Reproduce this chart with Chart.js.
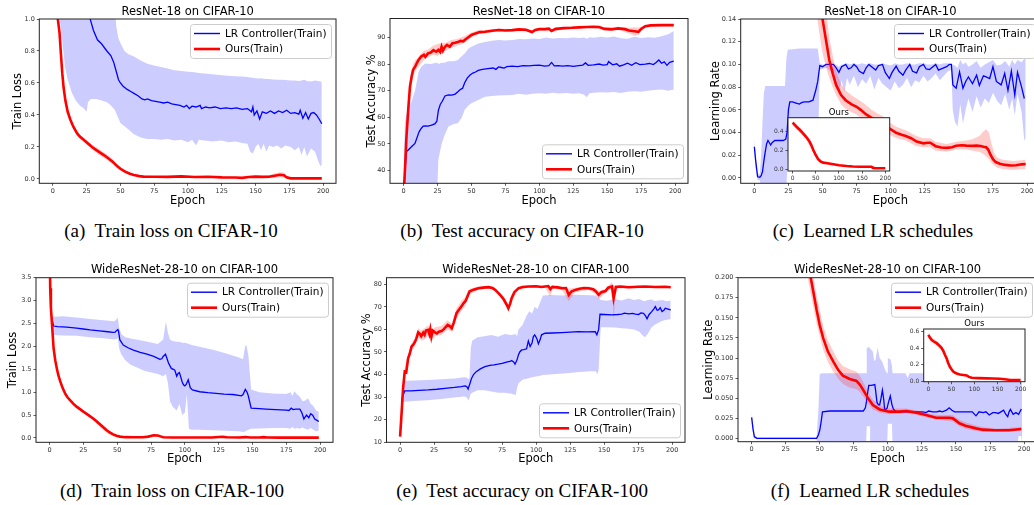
<!DOCTYPE html>
<html>
<head>
<meta charset="utf-8">
<title>Learned LR schedules</title>
<script src="https://cdn.jsdelivr.net/npm/chart.js@4.4.1/dist/chart.umd.min.js"></script>
<style>
  html, body { margin: 0; padding: 0; background: #fff; }
  body { position: relative; width: 1034px; height: 505px; overflow: hidden; }
  canvas { position: absolute; }
  .cap { position: absolute; transform: translateX(-50%); white-space: nowrap;
         font-family: 'Liberation Serif', 'Times New Roman', serif; font-size: 19px; line-height: 22px; color: #000; }
</style>
</head>
<body>
<div class="cap" style="left:171px;top:220px">(a)&nbsp; Train loss on CIFAR-10</div>
<div class="cap" style="left:522px;top:220px">(b)&nbsp; Test accuracy on CIFAR-10</div>
<div class="cap" style="left:873px;top:220px">(c)&nbsp; Learned LR schedules</div>
<div class="cap" style="left:172px;top:480px">(d)&nbsp; Train loss on CIFAR-100</div>
<div class="cap" style="left:522px;top:480px">(e)&nbsp; Test accuracy on CIFAR-100</div>
<div class="cap" style="left:870px;top:480px">(f)&nbsp; Learned LR schedules</div>
<script>
// ---- labels ----
const titles = ['ResNet-18 on CIFAR-10', 'WideResNet-28-10 on CIFAR-100'];
const legendLabels = ['LR Controller(Train)', 'Ours(Train)'];
const epochTicks = ['0', '25', '50', '75', '100', '125', '150', '175', '200'];
const insetEpochTicks = ['0', '50', '100', '150', '200'];
const aYTicks = ['0.0', '0.2', '0.4', '0.6', '0.8', '1.0'];
const bYTicks = ['40', '50', '60', '70', '80', '90'];
const cYTicks = ['0.00', '0.02', '0.04', '0.06', '0.08', '0.10', '0.12', '0.14'];
const dYTicks = ['0.0', '0.5', '1.0', '1.5', '2.0', '2.5', '3.0', '3.5'];
const eYTicks = ['10', '20', '30', '40', '50', '60', '70', '80'];
const fYTicks = ['0.000', '0.025', '0.050', '0.075', '0.100', '0.125', '0.150', '0.175', '0.200'];
const cInsetYTicks = ['0.0', '0.2', '0.4'];
const fInsetYTicks = ['0.0', '0.2', '0.4', '0.6'];

// ---- data: [epoch, value] for curves, [epoch, low, high] for bands ----
// (a) train loss, CIFAR-10
const aCtrl = [[0,2.2],[8,1.7],[16,1.35],[24,1.1],[28,0.99],[30,0.93],[33,0.87],[36,0.845],[40,0.8],[43,0.77],[45,0.73],[47,0.67],[48.6,0.62],[50,0.6],[52,0.58],[55,0.56],[58,0.545],[60,0.535],[63,0.52],[66,0.5],[68,0.495],[70,0.5],[73,0.49],[76,0.485],[79,0.48],[82,0.475],[85,0.48],[88,0.47],[91,0.465],[94,0.46],[97,0.45],[99,0.46],[101,0.44],[103,0.455],[106,0.45],[109,0.46],[110,0.44],[113,0.45],[116,0.445],[120,0.45],[124,0.44],[128,0.445],[132,0.44],[136,0.445],[140,0.435],[144,0.44],[147,0.42],[148,0.45],[149,0.4],[151,0.425],[153,0.375],[155,0.42],[158,0.41],[161,0.425],[164,0.41],[167,0.425],[170,0.415],[173,0.43],[176,0.41],[179,0.415],[182,0.405],[183,0.43],[185,0.38],[187,0.415],[189,0.375],[191,0.41],[193,0.415],[195,0.4],[197,0.375],[199,0.345]];
const aCtrlBand = [[0,1.8,2.6],[5,1.0,2.5],[7,0.86,2.4],[9,0.7,2.3],[11,0.62,2.2],[14,0.54,2.0],[17,0.49,1.9],[20,0.46,1.8],[23,0.44,1.7],[25,0.42,1.6],[26,0.48,1.55],[28,0.5,1.5],[32,0.5,1.4],[36,0.49,1.3],[40,0.48,1.2],[43,0.46,1.12],[46,0.43,1.05],[47,0.41,0.95],[48.5,0.38,0.88],[50,0.35,0.85],[53,0.33,0.8],[56,0.31,0.78],[60,0.28,0.765],[65,0.26,0.74],[70,0.25,0.72],[75,0.25,0.71],[80,0.245,0.7],[85,0.25,0.69],[90,0.24,0.68],[95,0.245,0.675],[100,0.23,0.67],[103,0.245,0.668],[106,0.21,0.665],[108,0.245,0.663],[112,0.24,0.66],[118,0.235,0.655],[125,0.24,0.648],[130,0.23,0.645],[135,0.235,0.642],[140,0.225,0.64],[144,0.22,0.637],[146,0.17,0.635],[148,0.16,0.633],[150,0.2,0.63],[152,0.22,0.628],[154,0.18,0.63],[156,0.22,0.626],[158,0.17,0.625],[160,0.21,0.625],[163,0.2,0.622],[166,0.21,0.62],[169,0.19,0.62],[172,0.21,0.618],[176,0.2,0.616],[179,0.18,0.615],[182,0.2,0.613],[184,0.15,0.615],[186,0.2,0.62],[188,0.14,0.612],[191,0.19,0.61],[194,0.17,0.615],[196,0.12,0.612],[198,0.08,0.61],[199,0.09,0.61]];
const aOurs = [[0,2.3],[2,1.4],[3.7,1.0],[5,0.91],[6,0.78],[7,0.66],[8,0.57],[9.3,0.49],[11,0.42],[13,0.37],[15,0.33],[18,0.285],[20,0.265],[23,0.244],[26,0.222],[29,0.2],[32,0.182],[35,0.165],[38,0.148],[41,0.13],[44,0.11],[47,0.085],[50,0.064],[53.5,0.046],[57,0.033],[60,0.025],[64,0.018],[67,0.015],[75,0.014],[85,0.013],[95,0.016],[105,0.012],[115,0.014],[125,0.01],[135,0.009],[140,0.007],[145,0.012],[150,0.015],[155,0.013],[160,0.014],[164,0.02],[168,0.026],[171,0.024],[173,0.01],[176,0.004],[185,0.004],[199,0.004]];
const aOursBand = [[0,2.25,2.35],[2,1.35,1.45],[3.7,0.95,1.05],[5,0.89,0.93],[6,0.76,0.8],[7,0.64,0.68],[8,0.55,0.59],[9.3,0.47,0.51],[11,0.41,0.43],[13,0.36,0.38],[15,0.32,0.34],[18,0.275,0.295],[20,0.255,0.275],[23,0.232,0.256],[26,0.208,0.236],[29,0.184,0.216],[32,0.164,0.2],[35,0.147,0.183],[38,0.13,0.166],[41,0.112,0.148],[44,0.093,0.127],[47,0.07,0.1],[50,0.052,0.076],[53.5,0.036,0.056],[57,0.025,0.041],[60,0.019,0.031],[64,0.012,0.024],[67,0.009,0.021],[75,0.009,0.019],[85,0.008,0.018],[95,0.011,0.021],[105,0.007,0.017],[115,0.009,0.019],[125,0.005,0.015],[135,0.005,0.013],[140,0.003,0.011],[145,0.006,0.018],[150,0.008,0.022],[155,0.006,0.02],[160,0.004,0.024],[164,0.006,0.034],[168,0.01,0.042],[171,0.008,0.04],[173,0.002,0.018],[176,0,0.008],[185,0,0.008],[199,0,0.008]];

// (b) test accuracy, CIFAR-10
const bCtrl = [[0,30],[1,40],[2.2,47.1],[4,48],[6,49],[8.4,50.2],[10,52.5],[11.5,54.6],[13,55.8],[14.5,56.7],[16,56.8],[18,56.7],[20,57],[23,57.5],[24.5,58.5],[25.6,62.5],[27,64.8],[28.5,66],[30.5,68],[33,68.4],[35.5,68.3],[38,68.7],[40,69.6],[42,70.5],[43.5,70.9],[45,73],[47,74.8],[49,75.9],[51,76.6],[53,77],[55,77.6],[58,78],[62,78.3],[66,78.5],[68,78],[70,78.9],[72,78.7],[74,78.5],[76,79],[80,79.2],[84,79],[88,79.4],[92,79.3],[96,79.5],[100,79.6],[104,79.2],[107,79.4],[109,80.6],[111,79.3],[114,79.4],[117,79.2],[121,79.4],[125,79.1],[129,79.4],[132,79.6],[134,80.4],[136,79.5],[140,79.7],[144,80],[147,79.6],[150,79.8],[151,80.9],[154,79.7],[157,80.1],[159,79.2],[162,79.7],[165,80.3],[168,79.5],[171,80.5],[174,79.8],[178,80],[181,80.2],[184,79.8],[186,80.6],[188,81.5],[190,80.3],[192,80.8],[194,79.5],[196,80.6],[199,81.1]];
const bCtrlBand = [[0,20,40],[1,20,58],[2,20,61],[4,20,64],[6,20,66],[8.4,20,70],[10,20,74],[11,20,77],[13,20,79],[16,20,80.2],[20,20,80],[24,20,80.5],[25,35,80.5],[25.6,44,80],[28,50,80.5],[30,53,80.5],[33,56.5,81],[37,57.5,81],[40,57.8,81.5],[43,60,83],[45,62.8,84],[48,64.5,85.9],[50,65.3,86.5],[55,66.5,87.7],[60,67.7,88.3],[65,68,88.7],[70,68.2,89],[75,68.3,88.8],[80,68.4,89],[85,68.8,89.4],[90,68.5,89.3],[95,68.8,89.6],[100,69,89.4],[105,68.8,90],[110,69.2,89.6],[115,68.9,89.8],[120,69.1,89.7],[125,68.8,90],[129,69,89.8],[133,68.5,90],[135,67.5,89.5],[137,69,90.1],[140,69.2,89.9],[145,69.4,90.2],[150,69.3,90],[155,69.5,90.3],[160,69.1,89.7],[165,69.6,89.5],[170,69.8,90.2],[175,69.6,89.8],[180,70,90.1],[185,70.2,89.9],[190,70.4,90.4],[195,70,91.2],[198,70.3,92.1],[199,70.2,92.3]];
const bOurs = [[0,30],[1,40],[2,51.5],[3.4,62.7],[4.7,71.5],[6,75.5],[7,77.8],[8.5,79],[9.6,80.2],[11,81.5],[13,82.8],[15,83.5],[16,82.7],[18,84],[20,84.3],[22,85.2],[24,84.6],[25.6,85.3],[27,84.5],[28,86.5],[29,85],[30.5,86.5],[32,87.2],[34,86.5],[36,87.8],[38,88],[40,88.3],[42,88.7],[44,88.5],[45,89],[47,89.8],[50,90.9],[53,91.5],[56,92],[60,92.1],[65,92.5],[70,92.8],[75,92.6],[80,92.75],[85,93],[90,92.9],[94.6,92],[97,92.8],[100,93.1],[104,93.1],[107,93.3],[109,92.4],[112,93.2],[118,93.5],[124,93.6],[129,93.75],[135,93.9],[140,94],[144,93.9],[148,93.2],[153,93],[158,93.4],[163,93.1],[166,92.6],[170,92.3],[173,92.1],[175,93.2],[178,94.2],[182,94.5],[190,94.6],[199,94.6]];
const bOursBand = [[0,28,32],[1,37,44],[2,48,55],[3.4,59,66],[4.7,68,74],[6,72.5,78],[7,75.5,80],[8.5,77,81.5],[10,78.5,82],[12,79.5,83.5],[15,81.5,85],[18,82.5,85.5],[22,83.5,87],[25,83,87.5],[28,84.5,88],[31,85,88],[35,86,89],[40,87,89.5],[45,88,90.5],[50,90,91.8],[55,91.3,92.7],[60,91.5,92.7],[70,92.3,93.3],[80,92.2,93.2],[90,92.4,93.4],[94.6,91.5,92.7],[100,92.7,93.6],[109,92,93],[118,93,94],[129,93.3,94.2],[140,93.6,94.4],[148,92.7,93.8],[158,92.9,94],[166,91.5,93.6],[170,90.5,93.8],[173,91,93.6],[176,93,94.2],[182,94.2,94.8],[199,94.2,95]];

// (c) learned LR, CIFAR-10
const cCtrl = [[0,0.0275],[1,0.015],[2.4,0.001],[4,0.0006],[5,0.002],[6,0.0056],[7,0.015],[8,0.023],[9,0.03],[10,0.033],[11,0.031],[12,0.029],[13,0.031],[15,0.033],[18,0.033],[21,0.033],[23,0.034],[24,0.04],[25,0.06],[26,0.067],[28,0.067],[30.6,0.066],[33,0.065],[35,0.0665],[37,0.067],[40,0.067],[43,0.0685],[45,0.077],[46.5,0.085],[48,0.099],[50,0.098],[52.6,0.1],[55,0.1],[58,0.1],[60,0.097],[62,0.093],[64,0.098],[67,0.1],[69,0.096],[71,0.097],[73,0.1],[75,0.098],[77,0.094],[80,0.092],[82,0.097],[84,0.1],[86,0.098],[89,0.095],[91,0.099],[94,0.1],[96,0.093],[99,0.0876],[101,0.093],[104,0.0985],[106,0.094],[109,0.0905],[111,0.095],[114,0.1],[116,0.094],[119,0.0925],[121,0.098],[124,0.1],[126,0.096],[128.5,0.0955],[131,0.098],[133,0.1],[135,0.095],[138,0.0965],[141,0.098],[143,0.1],[144.5,0.1],[145.6,0.082],[148,0.079],[150.5,0.0934],[153,0.079],[155,0.085],[157,0.089],[160,0.083],[163,0.0905],[165,0.0815],[168,0.09],[170,0.089],[172.6,0.0876],[175,0.098],[177.5,0.085],[181,0.082],[183.6,0.092],[186,0.077],[188.5,0.094],[191,0.073],[193,0.093],[196,0.08],[198,0.07]];
const cCtrlBand = [[0,0.02,0.035],[1,0.008,0.02],[2.4,-0.002,0.004],[4,-0.002,0.003],[5,-0.01,0.02],[6,-0.01,0.05],[7,-0.01,0.075],[8,-0.01,0.081],[22.5,-0.01,0.081],[23.5,-0.01,0.105],[24.5,0.02,0.113],[33,0.02,0.114],[46.5,0.02,0.114],[47.5,0.07,0.105],[48,0.095,0.101],[50,0.096,0.1],[53,0.097,0.1],[56,0.094,0.101],[58,0.088,0.1],[60,0.08,0.1],[62,0.075,0.098],[64,0.086,0.1],[66,0.076,0.1],[68,0.088,0.101],[70,0.082,0.1],[73,0.09,0.101],[76,0.08,0.1],[79,0.087,0.101],[82,0.083,0.1],[85,0.09,0.101],[88,0.078,0.1],[91,0.088,0.1],[94,0.083,0.101],[97,0.08,0.1],[100,0.077,0.099],[103,0.085,0.101],[106,0.079,0.1],[109,0.082,0.1],[112,0.088,0.101],[115,0.08,0.1],[118,0.086,0.1],[121,0.084,0.101],[124,0.09,0.101],[127,0.085,0.1],[130,0.088,0.1],[133,0.092,0.101],[136,0.086,0.1],[139,0.09,0.101],[142,0.094,0.101],[144.5,0.095,0.1],[145.5,0.06,0.1],[147,0.05,0.099],[149,0.045,0.097],[151,0.065,0.104],[153,0.048,0.1],[155,0.06,0.102],[157,0.07,0.098],[160,0.058,0.1],[163,0.072,0.103],[166,0.062,0.097],[169,0.07,0.1],[172,0.066,0.102],[175,0.075,0.104],[178,0.068,0.099],[181,0.064,0.1],[184,0.074,0.103],[187,0.06,0.098],[189,0.07,0.104],[191,0.055,0.1],[193,0.074,0.104],[196,0.058,0.102],[198,0.033,0.105],[199,0.035,0.105]];
const cOurs = [[40,0.25],[45,0.19],[48,0.16],[50,0.14],[52.6,0.121],[55,0.1037],[57.5,0.092],[60,0.0817],[63.6,0.073],[67,0.0685],[71,0.065],[75,0.0627],[78,0.06],[82,0.056],[86,0.053],[90,0.05],[95,0.047],[99,0.0436],[104,0.0398],[108,0.038],[111,0.037],[115,0.035],[119,0.032],[124,0.0305],[127,0.031],[129,0.031],[133,0.028],[137,0.0268],[141,0.0265],[145,0.027],[148,0.0284],[152,0.0288],[155.5,0.0285],[160,0.0283],[163,0.0285],[166,0.0282],[168,0.0275],[170,0.027],[171.5,0.025],[173,0.021],[175,0.0165],[177,0.014],[180,0.0125],[184,0.0115],[188,0.011],[192,0.0112],[196,0.012],[199,0.0123]];
const cOursBand = [[40,0.2,0.31],[45,0.15,0.24],[48,0.125,0.2],[50,0.11,0.175],[52.6,0.097,0.148],[55,0.088,0.124],[57.5,0.08,0.108],[60,0.073,0.094],[63.6,0.065,0.083],[67,0.061,0.077],[71,0.058,0.073],[75,0.056,0.07],[80,0.051,0.066],[86,0.046,0.06],[90,0.043,0.057],[95,0.041,0.054],[99,0.038,0.049],[104,0.035,0.045],[111,0.033,0.042],[119,0.028,0.037],[124,0.027,0.035],[129,0.027,0.035],[133,0.024,0.032],[141,0.023,0.03],[148,0.025,0.032],[155,0.025,0.033],[160,0.024,0.034],[165,0.023,0.037],[168,0.021,0.041],[170,0.019,0.043],[172,0.017,0.04],[174,0.013,0.03],[176,0.011,0.022],[178,0.009,0.018],[182,0.008,0.016],[190,0.007,0.015],[199,0.008,0.016]];
const cInset = [[0,0.496],[5,0.47],[10,0.445],[15.8,0.418],[22,0.385],[30,0.34],[36,0.3],[40,0.26],[44.6,0.206],[50,0.15],[55.4,0.106],[60,0.085],[66,0.071],[75,0.064],[88,0.053],[100,0.043],[116.5,0.035],[130,0.03],[145,0.028],[160,0.028],[170,0.027],[174,0.015],[178,0.011],[200,0.011]];
const cInsetBand = [[0,0.47,0.52],[15.8,0.395,0.445],[30,0.31,0.365],[44.6,0.18,0.235],[55.4,0.09,0.125],[66,0.062,0.08],[88,0.046,0.06],[116.5,0.03,0.04],[145,0.024,0.032],[170,0.02,0.036],[178,0.007,0.016],[200,0.007,0.015]];

// (d) train loss, CIFAR-100
const dCtrl = [[1.5,2.62],[3,2.445],[6,2.43],[12.8,2.42],[20,2.4],[25,2.38],[30,2.36],[37,2.34],[43,2.32],[47,2.305],[48.5,2.31],[49.6,2.35],[50.5,2.37],[51,2.33],[52,2.14],[54.5,2.03],[58,1.97],[62,1.92],[67,1.87],[72,1.83],[77,1.78],[81.6,1.72],[83,1.73],[84,1.78],[85.7,1.83],[87,1.72],[88,1.63],[90,1.52],[91.5,1.5],[92.6,1.48],[94,1.35],[95,1.41],[96,1.43],[97,1.33],[98,1.23],[99,1.16],[100,1.14],[101,1.17],[102.5,1.27],[104,1.1],[105.6,1.05],[111,1.01],[117,0.99],[123,0.975],[129,0.96],[135.6,0.95],[141.8,0.92],[143,0.95],[144.7,1.06],[146,1.0],[146.7,0.94],[148,0.78],[149,0.65],[155,0.64],[160,0.63],[167,0.62],[175,0.61],[177,0.6],[178.6,0.65],[180,0.62],[182,0.63],[185,0.63],[186.5,0.55],[188,0.415],[189,0.46],[190,0.5],[191.6,0.44],[193,0.53],[194.5,0.5],[196,0.415],[198,0.38],[199,0.36]];
const dCtrlBand = [[1.5,2.5,2.7],[3,2.25,2.65],[10,2.24,2.66],[20,2.23,2.63],[30,2.2,2.6],[40,2.18,2.57],[48,2.15,2.55],[49.6,2.16,2.6],[50.5,2.17,2.62],[51.5,1.95,2.4],[53,1.83,2.27],[56,1.7,2.2],[60,1.6,2.17],[70,1.47,2.12],[80,1.4,2.05],[84,1.35,2.15],[86,1.4,2.55],[87.5,1.2,2.3],[89,0.8,2.15],[91,0.68,2.12],[94,0.6,2.1],[96,0.75,2.1],[98,0.5,2.08],[100,0.55,2.08],[101.5,0.95,2.07],[103,0.2,2.05],[105,0.18,2.03],[110,0.18,2.0],[120,0.17,1.93],[130,0.16,1.85],[140,0.15,1.76],[143,0.13,1.72],[144.5,0.14,2.0],[145.5,0.16,2.03],[147,0.18,1.8],[149,0.2,1.06],[155,0.21,1.0],[165,0.22,0.97],[175,0.22,0.96],[178,0.2,1.0],[179.5,0.24,0.92],[181,0.2,1.02],[183,0.22,0.95],[185,0.2,0.9],[187,0.23,0.8],[189,0.2,0.82],[191,0.18,0.87],[193,0.22,0.75],[195,0.18,0.7],[197,0.15,0.6],[199,0.16,0.57]];
const dOurs = [[0,4.5],[0.5,3.27],[1,2.85],[1.7,2.54],[3,1.96],[4.2,1.7],[5.4,1.52],[6.5,1.37],[8,1.23],[9.7,1.09],[11.5,0.975],[13,0.9],[15,0.83],[17.5,0.75],[20,0.684],[22.5,0.63],[25,0.575],[28.5,0.505],[32,0.43],[34.5,0.37],[37,0.306],[39.5,0.24],[42,0.175],[44.5,0.12],[47,0.08],[49.5,0.05],[52,0.03],[56,0.018],[62,0.015],[69,0.015],[73,0.03],[77,0.058],[80,0.055],[82,0.035],[84,0.015],[90,0.01],[100,0.01],[110,0.012],[120,0.012],[125,0.022],[128,0.025],[131,0.015],[140,0.012],[145,0.02],[148,0.012],[155,0.01],[158,0.018],[161,0.01],[170,0.008],[180,0.008],[190,0.008],[199,0.008]];
const dOursBand = [[0,4.3,4.7],[1,2.75,2.95],[3,1.9,2.02],[5.4,1.48,1.56],[8,1.2,1.26],[11.5,0.95,1.0],[15,0.81,0.85],[20,0.66,0.7],[25,0.55,0.6],[28.5,0.47,0.53],[32,0.39,0.46],[34.5,0.32,0.41],[37,0.25,0.35],[39.5,0.18,0.29],[42,0.12,0.22],[44.5,0.07,0.16],[47,0.04,0.11],[49.5,0.02,0.07],[52,0.01,0.045],[56,0.005,0.03],[62,0.005,0.025],[69,0.005,0.025],[77,0.04,0.075],[82,0.02,0.05],[84,0.005,0.025],[100,0,0.02],[125,0.01,0.035],[131,0.005,0.025],[199,0,0.016]];

// (e) test accuracy, CIFAR-100
const eCtrl = [[1,28],[2,30.5],[3.4,32.75],[8,32.8],[14,33],[20.6,33.2],[27,33.5],[33,33.9],[40,34.3],[45,34.7],[47.7,35],[49,34.7],[50,33.6],[51,35.4],[52.6,38.4],[54,40],[56,41.3],[59,42.5],[62.4,43.5],[66,44.1],[69,44.3],[72,44.6],[75,45],[77,45.3],[79.6,45.7],[81,45.8],[82,46.2],[83.5,45.6],[84.5,44.6],[86,46.5],[87,48.7],[88,50],[89.4,50.9],[91,51],[93,51.4],[94.3,54.9],[95.6,52.4],[97,54],[98,56.8],[99,57.6],[100.5,56],[101.7,53.6],[103,55.5],[104,57.6],[106.6,58.3],[112,58.4],[119,58.6],[125,58.8],[131,59],[137,58.9],[143.5,59],[144.7,57.6],[146,60],[147,66.7],[150,66.6],[155.8,66.4],[160,66.6],[163,66.8],[165,67.2],[168,66.9],[171,67.1],[173,66.8],[175.4,66.6],[177,67.3],[179,67.1],[180.5,66],[181.6,64.7],[183,66.5],[185,67.9],[186.5,69],[187.7,70.1],[189,68.5],[190,68.6],[191.3,69.6],[192.6,67.9],[194,68.5],[195,69.4],[197,69],[199,68.6]];
const eCtrlBand = [[1,26,30],[2.5,28,37],[3.5,28,37.3],[10,28.3,37.4],[20,28.6,37.6],[30,29.2,37.9],[40,29.8,38.3],[47,30.3,38.8],[49,30,38.7],[50,28.5,38],[51,29.5,38.5],[52,31.5,52],[53,32,55],[57,33,56.5],[62,33,57],[67,32.5,57.5],[72,32,56.8],[77,32,58],[82,31.5,57.5],[85,31,58],[86,34,57],[87,36,60],[90,37.7,62],[93,38.2,66],[95,38.5,68],[97,38.8,67],[99,39,70],[101,39.3,69],[103,39.5,72],[105,39.8,75],[110,40,75.2],[120,40.5,75],[130,41,75.3],[140,41.5,75.1],[144,41.5,75],[145,40,74.5],[146,42,74],[147.5,61,73],[152,61,72.7],[158,60.8,73.5],[163,60.5,72.8],[168,60.3,73.8],[172,60,73],[176,59,73.5],[178,57.5,72.8],[180,56.5,72.5],[182,58,73],[185,61,73.2],[187,62,72.6],[190,63,72.8],[193,63.8,73],[196,64.3,72.5],[199,64.5,72.8]];
const eOurs = [[0,12.5],[1,22],[2.2,34],[3.4,41.3],[4.5,41],[5.9,47.2],[7,49],[8.4,52.4],[10,53.5],[10.8,54.3],[12,56],[13.3,58.7],[14.5,58],[15.5,57],[17,58.5],[18,57.6],[19,59.5],[20.6,59.8],[21.5,58],[22.2,60],[23,56.8],[24,59.5],[25.6,58.7],[27,58.2],[28.5,59],[30.5,59.3],[32,60],[33.5,61],[35,62],[36.5,61.5],[38,60.5],[39.5,63],[41.5,67.2],[43,68.5],[45,70.1],[46.5,71.5],[48,72.5],[49,73.8],[51,76.8],[54,77.6],[57.5,78.2],[61,78.5],[65,78.7],[68,78.3],[70,77.5],[72.5,76],[74.7,74.5],[76.5,73],[78.4,70.9],[79.6,69.4],[81,71.5],[82,73.8],[84,76.5],[87,78.2],[90,78.8],[94.3,79],[100,79.1],[104,78.8],[106.6,79],[109,79.2],[110.5,77.8],[112,78.8],[116,78.6],[119,78.2],[122,78.3],[124,75.3],[126,76.8],[128.7,77.5],[132,78],[135,78.3],[138.6,78.2],[142,77.8],[144,76.8],[146,75.3],[148,76.5],[151,77],[153,78.5],[155.8,79],[157,73.8],[158.7,78.8],[162,79],[168,78.7],[175,78.9],[180,79],[188,78.8],[195,78.9],[199,78.7]];
const eOursBand = [[0,11.5,14],[1,20,24],[2.2,32,36],[3.4,39,43],[5.9,45,49],[8.4,50.5,54],[10.8,52.5,56],[13.3,56.5,60.5],[15.5,55,59.5],[18,55.5,60.5],[20.6,57.5,61.8],[23,55,59],[25.6,57,61],[30.5,57.5,61.5],[35,60,64],[38,58.8,62.5],[41.5,65,69.5],[45,68,72.5],[48,70.5,74.5],[51,75.5,78],[57.5,77.5,79],[65,78.2,79.3],[70,76.8,78.3],[74.7,73.5,75.5],[78.4,69.5,72.2],[79.6,68,71],[82,72.5,75],[87,77.5,79],[94.3,78.5,79.5],[106.6,78.5,79.5],[110.5,74.5,79],[112,78,79.5],[119,77.5,79],[124,72.5,78],[128.7,76.5,78.5],[138.6,77.5,79],[144,75.5,78],[146,73.5,77],[151,76,78],[155.8,78.2,81],[157,64,79.5],[158.7,78,79.5],[168,78.2,79.2],[199,78.3,79.2]];

// (f) learned LR, CIFAR-100
const fCtrl = [[0,0.026],[1,0.012],[2,0.002],[4,0],[20,0],[40,0],[47.7,0],[49,0.004],[50,0.01],[51,0.02],[52,0.033],[57.5,0.034],[65,0.034],[75,0.034],[82,0.034],[83.5,0.038],[84.3,0.0456],[85,0.055],[86,0.066],[88,0.066],[90.4,0.067],[91,0.06],[92,0.045],[93,0.042],[94,0.0415],[95,0.05],[96,0.06],[97,0.048],[97.7,0.035],[99.4,0.0373],[100.5,0.045],[101.8,0.0527],[103,0.042],[104,0.0365],[106,0.033],[115,0.033],[125.7,0.033],[128,0.032],[130,0.034],[133,0.033],[136,0.033],[138,0.034],[140,0.033],[143,0.035],[145,0.038],[147,0.035],[149,0.033],[155,0.033],[162,0.033],[164.7,0.028],[167,0.033],[170,0.032],[172,0.033],[174.4,0.029],[177,0.032],[179,0.032],[181,0.031],[183,0.033],[185,0.035],[186.5,0.03],[188,0.027],[189,0.033],[190,0.036],[192,0.03],[194,0.032],[196,0.03],[198,0.0365]];
const fCtrlBand = [[0,0.018,0.034],[1,0.006,0.018],[2,0,0.004],[4,-0.001,0.001],[47.7,-0.001,0.001],[49,-0.01,0.035],[50,-0.01,0.08],[52,-0.01,0.081],[84,-0.01,0.081],[84.5,0.015,0.112],[86,0.015,0.114],[87,0.015,0.112],[87.5,-0.01,0.112],[89,-0.01,0.108],[90,-0.01,0.096],[91,-0.01,0.098],[92.5,-0.01,0.113],[94,-0.01,0.1],[96,-0.01,0.095],[98,-0.01,0.085],[99.5,-0.01,0.081],[100,0.018,0.1],[102,0.018,0.098],[103,0.018,0.09],[103.5,-0.01,0.081],[113,-0.01,0.081],[114.5,-0.01,0.075],[116,-0.01,0.081],[195,-0.01,0.081],[196,0.003,0.081],[198,0.003,0.081],[198.5,-0.01,0.081]];
const fOurs = [[38,0.25],[43.4,0.2],[45.3,0.1826],[47.7,0.16],[50,0.141],[52.6,0.1245],[56,0.108],[60,0.0954],[63.6,0.085],[67,0.078],[72,0.0739],[77,0.0714],[79.4,0.067],[82,0.06],[85.5,0.0498],[89,0.0415],[94,0.036],[101,0.0332],[108.6,0.0332],[113.5,0.034],[121,0.032],[128,0.029],[135.4,0.0257],[145,0.0257],[147.6,0.0249],[150,0.022],[152.5,0.0187],[157,0.0158],[164.7,0.0124],[169.5,0.0108],[179,0.01],[189,0.01],[198,0.0116]];
const fOursBand = [[38,0.23,0.28],[43.4,0.18,0.22],[47.7,0.143,0.178],[52.6,0.11,0.14],[56,0.095,0.122],[60,0.083,0.108],[63.6,0.074,0.097],[67,0.068,0.09],[72,0.063,0.086],[77,0.061,0.083],[79.4,0.058,0.078],[82,0.052,0.07],[85.5,0.043,0.058],[89,0.036,0.048],[94,0.032,0.041],[101,0.03,0.037],[113.5,0.031,0.037],[121,0.029,0.035],[128,0.026,0.032],[135.4,0.023,0.029],[147.6,0.021,0.029],[152.5,0.015,0.023],[157,0.012,0.02],[164.7,0.009,0.016],[169.5,0.008,0.014],[179,0.008,0.012],[198,0.009,0.014]];
const fInset = [[0,0.56],[3,0.53],[7,0.5],[12,0.48],[18,0.46],[24,0.43],[29,0.4],[33,0.36],[36,0.32],[40,0.27],[43,0.22],[47,0.17],[50.5,0.14],[54,0.115],[58,0.1],[63,0.088],[68.6,0.08],[76,0.074],[83,0.068],[88,0.05],[94,0.04],[110,0.036],[126,0.032],[140,0.03],[155,0.028],[166,0.022],[177,0.012],[200,0.012]];
const fInsetBand = [[0,0.53,0.59],[7,0.47,0.53],[18,0.43,0.49],[29,0.37,0.43],[36,0.29,0.35],[43,0.19,0.25],[50.5,0.12,0.16],[58,0.085,0.115],[68.6,0.068,0.092],[83,0.058,0.078],[94,0.033,0.047],[126,0.026,0.038],[155,0.022,0.034],[177,0.007,0.017],[200,0.007,0.017]];

// ---- styling ----
const BLUE = '#0000ff';
const RED = '#ff0000';
const BLUE_BAND = 'rgba(0, 0, 255, 0.2)';
const RED_BAND = 'rgba(255, 0, 0, 0.2)';
const FONT = "'DejaVu Sans', sans-serif";

Chart.defaults.font.family = FONT;
Chart.defaults.color = '#333';

function lineSet(rows, color, width, order) {
    return {
        data: rows.map(r => ({ x: r[0], y: r[1] })),
        borderColor: color, borderWidth: width,
        pointRadius: 0, fill: false, order, clip: 0
    };
}

function bandSets(rows, color, order) {
    return [
        {
            data: rows.map(r => ({ x: r[0], y: r[2] })),
            borderColor: 'rgba(0,0,0,0)', borderWidth: 0, backgroundColor: color,
            pointRadius: 0, fill: '+1', order, clip: 0
        },
        {
            data: rows.map(r => ({ x: r[0], y: r[1] })),
            borderColor: 'rgba(0,0,0,0)', borderWidth: 0,
            pointRadius: 0, fill: false, order, clip: 0
        }
    ];
}

function curves(ctrl, ctrlBand, ours, oursBand) {
    const sets = [];
    if (ctrl) sets.push(...bandSets(ctrlBand, BLUE_BAND, 4), lineSet(ctrl, BLUE, 1.3, 3));
    sets.push(...bandSets(oursBand, RED_BAND, 2), lineSet(ours, RED, 2.6, 1));
    return sets;
}

// frame, title, legend and inset background
const decor = {
    id: 'decor',
    beforeDatasetsDraw(chart, args, o) {
        if (!o.whiteBg) return;
        const a = chart.chartArea, ctx = chart.ctx;
        ctx.save();
        ctx.fillStyle = '#fff';
        ctx.fillRect(a.left, a.top, a.width, a.height);
        ctx.restore();
    },
    afterDatasetsDraw(chart, args, o) {
        const a = chart.chartArea, ctx = chart.ctx;
        ctx.save();
        ctx.strokeStyle = '#222';
        ctx.lineWidth = 1;
        ctx.strokeRect(a.left, a.top, a.width, a.height);

        ctx.fillStyle = '#000';
        ctx.textAlign = 'center';
        ctx.textBaseline = 'middle';
        ctx.font = o.titleSize + 'px ' + FONT;
        ctx.fillText(o.title, (a.left + a.right) / 2, o.titleY);

        if (o.legend) {
            const w = 141, h = 34;
            const x = a.right - 5 - w;
            const y = o.legend === 'ur' ? a.top + 5 : a.bottom - 5 - h;
            ctx.beginPath();
            ctx.roundRect(x + 0.5, y + 0.5, w, h, 3);
            ctx.fillStyle = 'rgba(255,255,255,0.8)';
            ctx.fill();
            ctx.strokeStyle = '#cccccc';
            ctx.stroke();
            const styles = [[BLUE, 1.4], [RED, 2.6]];
            ctx.font = '10.5px ' + FONT;
            ctx.textAlign = 'left';
            legendLabels.forEach((label, i) => {
                const ly = y + 9.5 + i * 15.5;
                ctx.beginPath();
                ctx.moveTo(x + 4, ly);
                ctx.lineTo(x + 30, ly);
                ctx.strokeStyle = styles[i][0];
                ctx.lineWidth = styles[i][1];
                ctx.stroke();
                ctx.fillStyle = '#000';
                ctx.fillText(label, x + 35, ly + 0.5);
            });
        }
        ctx.restore();
    }
};

function panel(p) {
    const [cl, ct, cw, ch] = p.canvas;
    const [L, T, R, B] = p.area;
    const cv = document.createElement('canvas');
    cv.width = cw; cv.height = ch;
    cv.style.left = cl + 'px'; cv.style.top = ct + 'px';
    cv.style.width = cw + 'px'; cv.style.height = ch + 'px';
    document.body.appendChild(cv);

    const xVals = p.xTicks.map(Number);
    const yVals = p.yTicks.map(Number);
    const tickSize = p.inset ? 6 : 6.5;
    const labelSize = 11.5;

    return new Chart(cv, {
        type: 'line',
        data: { datasets: p.datasets },
        options: {
            responsive: false,
            animation: false,
            events: [],
            devicePixelRatio: 1,
            layout: { padding: { left: 0, top: T - ct, right: cl + cw - R, bottom: 0 } },
            plugins: {
                legend: { display: false },
                tooltip: { enabled: false },
                decor: {
                    title: p.title, titleY: p.titleY - ct,
                    titleSize: p.inset ? 8.5 : 11.5,
                    legend: p.legend, whiteBg: !!p.inset
                }
            },
            scales: {
                x: {
                    type: 'linear', min: p.x[0], max: p.x[1],
                    afterBuildTicks: s => { s.ticks = xVals.map(v => ({ value: v })); },
                    afterFit: s => { s.height = ct + ch - B; },
                    ticks: {
                        autoSkip: false, maxRotation: 0, padding: 1.5,
                        font: { size: tickSize }, color: '#333',
                        callback: (v, i) => p.xTicks[i]
                    },
                    grid: { drawOnChartArea: false, drawTicks: true, tickLength: 2.5, color: '#333', lineWidth: 0.8 },
                    border: { display: false },
                    title: p.xlabel ? {
                        display: true, text: p.xlabel, color: '#000',
                        font: { size: labelSize },
                        padding: { top: 0, bottom: ch - (p.xlabelY - ct) - labelSize * 0.6 }
                    } : { display: false }
                },
                y: {
                    type: 'linear', min: p.y[0], max: p.y[1],
                    afterBuildTicks: s => { s.ticks = yVals.map(v => ({ value: v })); },
                    afterFit: s => { s.width = L - cl; },
                    ticks: {
                        autoSkip: false, padding: 2,
                        font: { size: tickSize }, color: '#333',
                        callback: (v, i) => p.yTicks[i]
                    },
                    grid: { drawOnChartArea: false, drawTicks: true, tickLength: 2.5, color: '#333', lineWidth: 0.8 },
                    border: { display: false },
                    title: p.ylabel ? {
                        display: true, text: p.ylabel, color: '#000',
                        font: { size: labelSize },
                        padding: { top: p.ylabelX - cl - labelSize * 0.6, bottom: 0 }
                    } : { display: false }
                }
            }
        },
        plugins: [decor]
    });
}

const X_RANGE = [-10, 209.5];

panel({ canvas: [0, 0, 345, 215], area: [39.3, 19, 336, 183.3], x: X_RANGE, y: [-0.027, 1.0],
        xTicks: epochTicks, yTicks: aYTicks, title: titles[0], titleY: 11.7,
        ylabel: 'Train Loss', ylabelX: 18.3, xlabel: 'Epoch', xlabelY: 201, legend: 'ur',
        datasets: curves(aCtrl, aCtrlBand, aOurs, aOursBand) });

panel({ canvas: [345, 0, 348, 215], area: [390, 18.5, 688, 183.3], x: X_RANGE, y: [35.2, 97.1],
        xTicks: epochTicks, yTicks: bYTicks, title: titles[0], titleY: 11.7,
        ylabel: 'Test Accuracy %', ylabelX: 371.7, xlabel: 'Epoch', xlabelY: 201, legend: 'lr',
        datasets: curves(bCtrl, bCtrlBand, bOurs, bOursBand) });

panel({ canvas: [693, 0, 360, 215], area: [740.7, 19, 1040, 183.3], x: X_RANGE, y: [-0.0047, 0.14],
        xTicks: epochTicks, yTicks: cYTicks, title: titles[0], titleY: 11.7,
        ylabel: 'Learning Rate', ylabelX: 716, xlabel: 'Epoch', xlabelY: 201, legend: 'ur',
        datasets: curves(cCtrl, cCtrlBand, cOurs, cOursBand) });

panel({ canvas: [0, 255, 345, 215], area: [36, 277.7, 333, 442.3], x: X_RANGE, y: [-0.094, 3.5],
        xTicks: epochTicks, yTicks: dYTicks, title: titles[1], titleY: 270,
        ylabel: 'Train Loss', ylabelX: 13.3, xlabel: 'Epoch', xlabelY: 459, legend: 'ur',
        datasets: curves(dCtrl, dCtrlBand, dOurs, dOursBand) });

panel({ canvas: [345, 255, 348, 215], area: [386.5, 277.7, 685, 442.3], x: X_RANGE, y: [10, 82.9],
        xTicks: epochTicks, yTicks: eYTicks, title: titles[1], titleY: 270,
        ylabel: 'Test Accuracy %', ylabelX: 366.7, xlabel: 'Epoch', xlabelY: 459, legend: 'lr',
        datasets: curves(eCtrl, eCtrlBand, eOurs, eOursBand) });

panel({ canvas: [693, 255, 360, 215], area: [738, 277.7, 1037, 441.7], x: X_RANGE, y: [-0.0042, 0.2],
        xTicks: epochTicks, yTicks: fYTicks, title: titles[1], titleY: 270,
        ylabel: 'Learning Rate', ylabelX: 709.3, xlabel: 'Epoch', xlabelY: 459, legend: 'ur',
        datasets: curves(fCtrl, fCtrlBand, fOurs, fOursBand) });

// insets with the full "Ours" schedule
panel({ canvas: [770, 104, 125, 82], area: [788, 117.7, 889.7, 171], x: X_RANGE, y: [-0.018, 0.549],
        xTicks: insetEpochTicks, yTicks: cInsetYTicks, title: 'Ours', titleY: 112.3, inset: true,
        datasets: curves(null, null, cInset, cInsetBand) });

panel({ canvas: [905, 316, 128, 80], area: [923.7, 329, 1025, 381.7], x: X_RANGE, y: [-0.008, 0.632],
        xTicks: insetEpochTicks, yTicks: fInsetYTicks, title: 'Ours', titleY: 324, inset: true,
        datasets: curves(null, null, fInset, fInsetBand) });
</script>
</body>
</html>
